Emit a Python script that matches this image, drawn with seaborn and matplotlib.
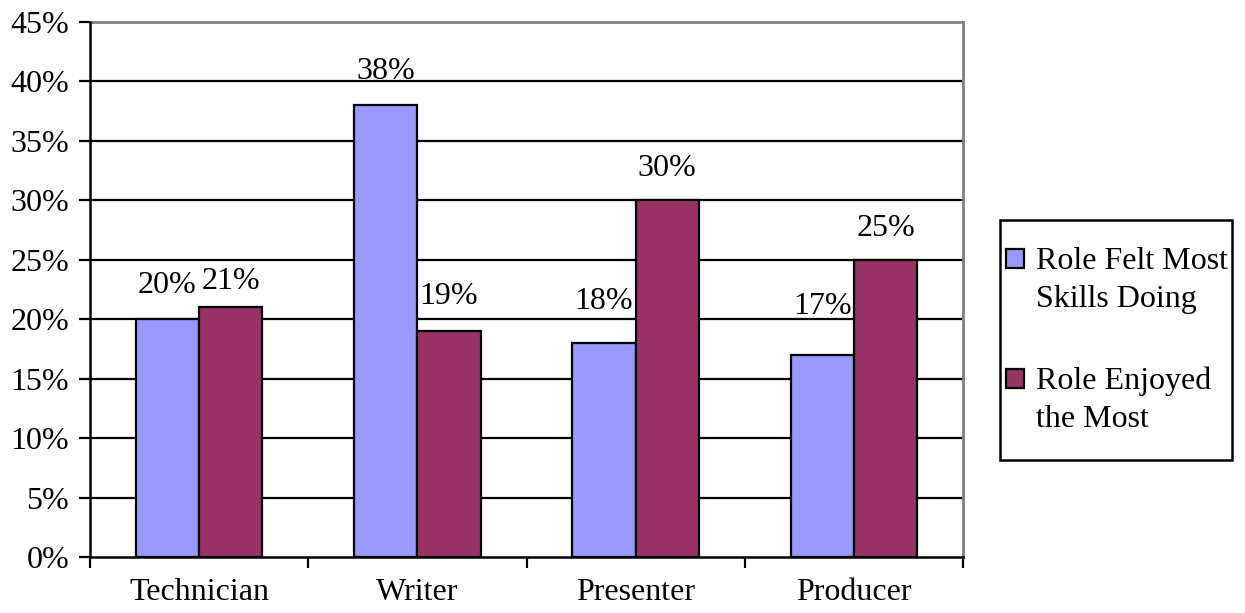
import matplotlib
matplotlib.use("Agg")
import matplotlib.pyplot as plt
import seaborn as sns
import pandas as pd
import numpy as np
from matplotlib.patches import Rectangle
from matplotlib.legend_handler import HandlerPatch

roles = ["Technician", "Writer", "Presenter", "Producer"]
series_names = ["Role Felt Most\nSkills Doing", "Role Enjoyed\nthe Most"]
felt_skills = [20, 38, 18, 17]
enjoyed_most = [21, 19, 30, 25]
y_ticks = [0, 5, 10, 15, 20, 25, 30, 35, 40, 45]
colors = ["#9999FF", "#993366"]

# Gap (pixels) between each bar top and the baseline of its value label
label_gap_px = [[26, 26, 34, 41], [18, 27, 24, 24]]

df = pd.DataFrame({
    "role": roles * 2,
    "series": [series_names[0]] * len(roles) + [series_names[1]] * len(roles),
    "value": felt_skills + enjoyed_most,
})

sns.set_style("white")
plt.rcParams["font.family"] = ["Liberation Serif", "DejaVu Serif"]
plt.rcParams["font.size"] = 23
plt.rcParams["text.color"] = "black"
plt.rcParams["xtick.color"] = "black"
plt.rcParams["ytick.color"] = "black"

FS = 23
W, H = 1245, 613


class TopAlignedSquare(HandlerPatch):
    """Legend swatch lifted to sit beside the first line of a two-line label."""

    def create_artists(self, legend, orig_handle, xdescent, ydescent,
                       width, height, fontsize, trans):
        shift = 0.68 * fontsize
        p = Rectangle((-xdescent, -ydescent + shift), width, height,
                      facecolor=orig_handle.get_facecolor(),
                      edgecolor="black", linewidth=1.6)
        p.set_transform(trans)
        return [p]


fig = plt.figure(figsize=(W / 100, H / 100), dpi=100)
ax = fig.add_axes([90 / W, 56 / H, (963 - 90) / W, (557 - 22) / H])

sns.barplot(data=df, x="role", y="value", hue="series", order=roles,
            hue_order=series_names, palette=colors, width=0.58,
            edgecolor="black", linewidth=1.6, saturation=1, ax=ax,
            legend=True)

for cont, gaps in zip(ax.containers, label_gap_px):
    for bar, val, gap in zip(cont.patches, cont.datavalues, gaps):
        ax.annotate(f"{val:.0f}%",
                    xy=(bar.get_x() + bar.get_width() / 2, bar.get_height()),
                    xytext=(0, gap * 0.72), textcoords="offset points",
                    ha="center", va="baseline", fontsize=FS, color="black")

ax.set_ylim(0, 45)
ax.set_xlim(-0.5, len(roles) - 0.5)
ax.set_yticks(y_ticks)
ax.set_yticklabels([f"{t}%" for t in y_ticks], fontsize=FS)
for t in y_ticks[1:-1]:
    ax.axhline(t, color="black", linewidth=1.6, zorder=0)

# Category boundaries carry the tick marks; names sit centred on minor ticks
ax.set_xticks(np.arange(-0.5, len(roles), 1.0))
ax.set_xticklabels([])
ax.set_xticks(np.arange(len(roles)), minor=True)
ax.set_xticklabels(roles, minor=True, fontsize=FS)
ax.tick_params(axis="x", which="major", direction="out", length=8, width=1.6,
               color="black", bottom=True)
ax.tick_params(axis="x", which="minor", length=0, pad=15)
ax.tick_params(axis="y", direction="out", length=8, width=1.6, color="black",
               left=True, pad=7)
ax.set_xlabel("")
ax.set_ylabel("")

for side in ["left", "bottom"]:
    ax.spines[side].set_color("black")
    ax.spines[side].set_linewidth(1.8)
for side in ["top", "right"]:
    ax.spines[side].set_color("#808080")
    ax.spines[side].set_linewidth(2)
ax.spines["left"].set_zorder(3)

handles, labels = ax.get_legend_handles_labels()
leg = ax.legend(handles, labels, loc="upper left",
                bbox_to_anchor=(1006 / W, 1 - 247 / H),
                bbox_transform=fig.transFigure, frameon=False,
                fontsize=FS, handlelength=0.55, handleheight=0.55,
                handletextpad=0.38, labelspacing=1.65, borderpad=0,
                borderaxespad=0,
                handler_map={Rectangle: TopAlignedSquare()})
for txt in leg.get_texts():
    txt.set_color("black")
    txt.set_linespacing(1.4)

# Legend border box
fig.patches.append(Rectangle((1000 / W, 1 - 460 / H), 232 / W, 240 / H,
                             transform=fig.transFigure, fill=False,
                             edgecolor="black", linewidth=1.8))

fig.savefig("out.png", dpi=100)
